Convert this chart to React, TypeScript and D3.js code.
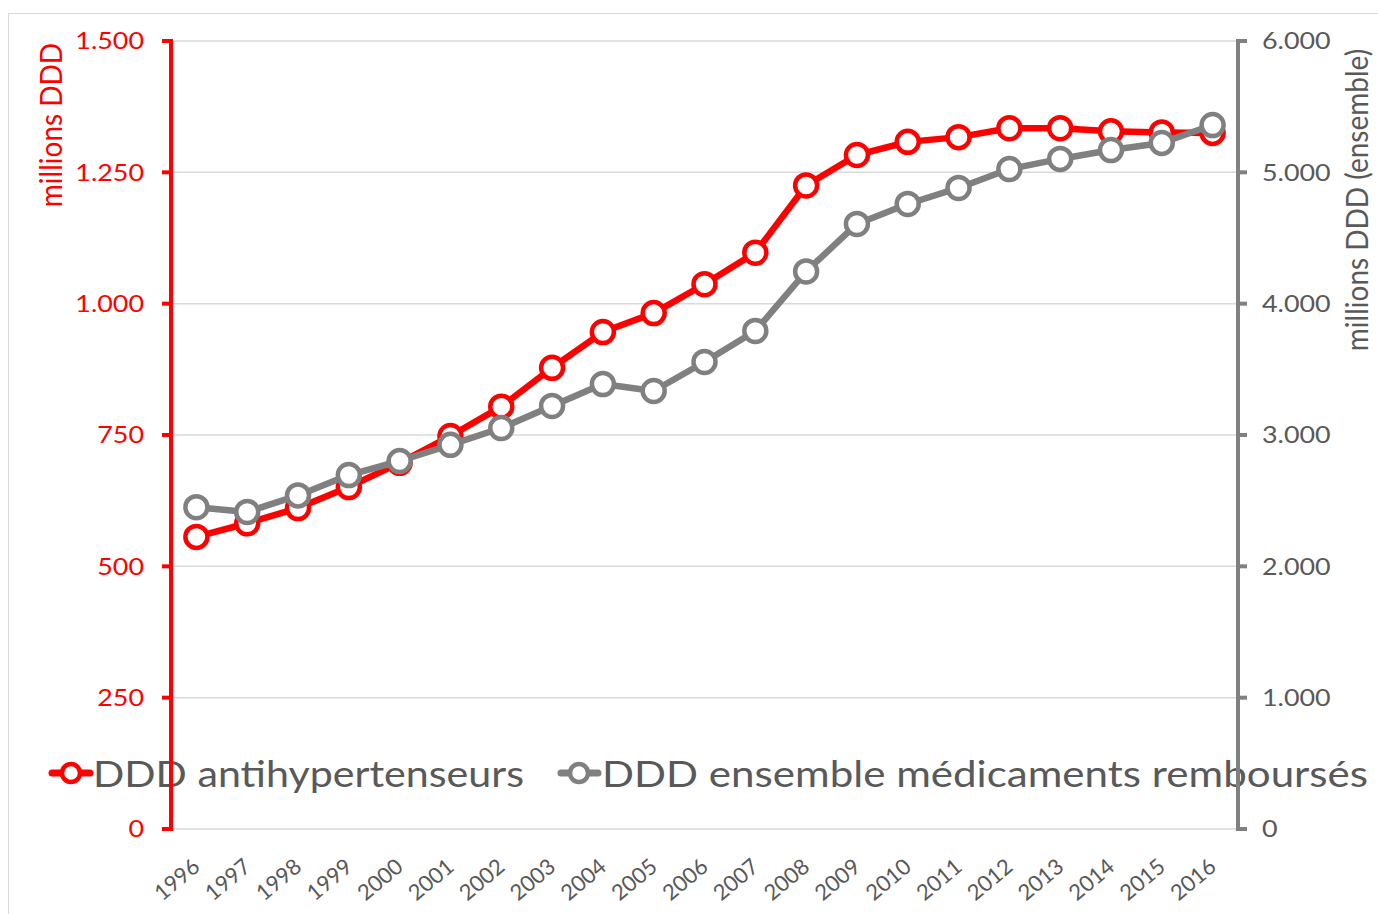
import React from "react";
import * as d3 from "d3";

const years = ["1996","1997","1998","1999","2000","2001","2002","2003","2004","2005","2006","2007","2008","2009","2010","2011","2012","2013","2014","2015","2016"];
const antihypertenseurs = [556, 582, 611, 651, 697, 748, 804, 878, 946, 982, 1037, 1097, 1225, 1283, 1308, 1317, 1334, 1334, 1328, 1326, 1325];
const ensemble = [2450, 2414, 2540, 2695, 2802, 2925, 3053, 3221, 3388, 3335, 3556, 3792, 4245, 4607, 4759, 4881, 5025, 5102, 5170, 5224, 5360];
const leftTicks = [0, 250, 500, 750, 1000, 1250, 1500];
const rightTicks = [0, 1000, 2000, 3000, 4000, 5000, 6000];
const seriesNames = ["DDD antihypertenseurs", "DDD ensemble médicaments remboursés"];
const axisTitles = ["millions DDD", "millions DDD (ensemble)"];

const RED = "#FF0000";
const GRAY = "#808080";
const TEXT = "#595959";
const FONT = "Lato, 'Open Sans', sans-serif";

const fmt = (v: number) => (v === 0 ? "0" : d3.format(",")(v).replace(/,/g, "."));

export default function App() {
  const W = 1378, H = 914;
  const left = 171, right = 1238, top = 41, bottom = 829;
  const x = d3.scaleBand<string>().domain(years).range([left, right]);
  const cx = (y: string) => (x(y) as number) + x.bandwidth() / 2;
  const yL = d3.scaleLinear().domain([0, 1500]).range([bottom, top]);
  const yR = d3.scaleLinear().domain([0, 6000]).range([bottom, top]);

  const lineL = d3.line<number>().x((_, i) => cx(years[i])).y((d) => yL(d));
  const lineR = d3.line<number>().x((_, i) => cx(years[i])).y((d) => yR(d));

  const legendY = 773;
  const SX = 1.12;

  return (
    <svg width={W} height={H} style={{ position: "absolute", left: 0, top: 0, background: "#fff" }} fontFamily={FONT}>
      <rect x={8.5} y={13.5} width={1400} height={1000} fill="#fff" stroke="#d9d9d9" strokeWidth={1} />
      {/* gridlines */}
      {leftTicks.map((t) => (
        <line key={t} x1={left} x2={right} y1={yL(t)} y2={yL(t)} stroke="#d9d9d9" strokeWidth={1.5} />
      ))}
      {/* legend */}
      <g>
        <line x1={52} x2={90} y1={legendY} y2={legendY} stroke={RED} strokeWidth={7} strokeLinecap="round" />
        <circle cx={71} cy={legendY} r={9} fill="#fff" stroke={RED} strokeWidth={4.5} />
        <text x={93} y={legendY + 13.5} fontSize={37} fill={TEXT} textLength={431} lengthAdjust="spacingAndGlyphs">{seriesNames[0]}</text>
        <line x1={561} x2={598} y1={legendY} y2={legendY} stroke={GRAY} strokeWidth={7} strokeLinecap="round" />
        <circle cx={579} cy={legendY} r={9} fill="#fff" stroke={GRAY} strokeWidth={4.5} />
        <text x={602} y={legendY + 13.5} fontSize={37} fill={TEXT} textLength={766} lengthAdjust="spacingAndGlyphs">{seriesNames[1]}</text>
      </g>
      {/* left axis */}
      <line x1={left} x2={left} y1={top - 2} y2={bottom + 2} stroke={RED} strokeWidth={4} />
      {leftTicks.map((t) => (
        <g key={t}>
          <line x1={left - 9} x2={left} y1={yL(t)} y2={yL(t)} stroke={RED} strokeWidth={4} />
          <text transform={`translate(144,${yL(t)}) scale(${SX},1)`} dy="0.35em" textAnchor="end" fontSize={24} fill={RED}>{fmt(t)}</text>
        </g>
      ))}
      <text transform={`translate(62,125) scale(${SX},1) rotate(-90)`} textAnchor="middle" fontSize={28} fill={RED}>{axisTitles[0]}</text>
      {/* right axis */}
      <line x1={right} x2={right} y1={top - 2} y2={bottom + 2} stroke={GRAY} strokeWidth={4} />
      {rightTicks.map((t) => (
        <g key={t}>
          <line x1={right} x2={right + 9} y1={yR(t)} y2={yR(t)} stroke={GRAY} strokeWidth={4} />
          <text transform={`translate(1262,${yR(t)}) scale(${SX},1)`} dy="0.35em" textAnchor="start" fontSize={24} fill={TEXT}>{fmt(t)}</text>
        </g>
      ))}
      <text transform={`translate(1368,200) scale(${SX},1) rotate(-90)`} textAnchor="middle" fontSize={28} fill={TEXT}>{axisTitles[1]}</text>
      {/* x labels */}
      {years.map((yv) => (
        <text key={yv} transform={`translate(${cx(yv) + 5},${869}) rotate(-40)`} textAnchor="end" fontSize={22} fill={TEXT}>{yv}</text>
      ))}
      {/* series */}
      <path d={lineL(antihypertenseurs) || ""} fill="none" stroke={RED} strokeWidth={6.5} strokeLinejoin="round" />
      {antihypertenseurs.map((v, i) => (
        <circle key={i} cx={cx(years[i])} cy={yL(v)} r={11} fill="#fff" stroke={RED} strokeWidth={4.5} />
      ))}
      <path d={lineR(ensemble) || ""} fill="none" stroke={GRAY} strokeWidth={6.5} strokeLinejoin="round" />
      {ensemble.map((v, i) => (
        <circle key={i} cx={cx(years[i])} cy={yR(v)} r={11} fill="#fff" stroke={GRAY} strokeWidth={4.5} />
      ))}
    </svg>
  );
}
